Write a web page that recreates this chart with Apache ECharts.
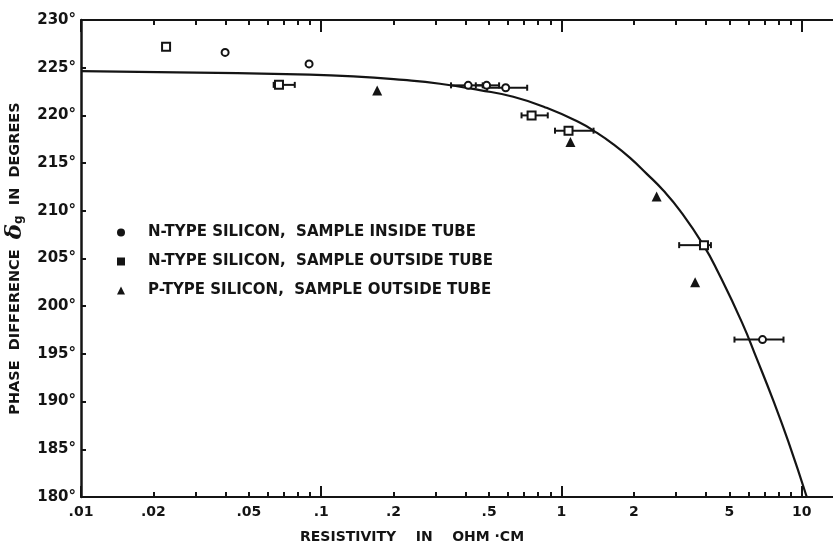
<!DOCTYPE html>
<html>
<head>
<meta charset="utf-8">
<script src="https://cdn.jsdelivr.net/npm/echarts@6/dist/echarts.min.js"></script>
<style>
  html, body { margin: 0; padding: 0; background: #fff; }
  #chart { width: 833px; height: 545px; }
</style>
</head>
<body>
<div id="chart"></div>
<script>
// N-type silicon, sample inside tube: resistivity (ohm·cm), phase (deg), horizontal error range
const nInsideRho   = [0.0398, 0.089, 0.409, 0.488, 0.586, 6.87];
const nInsidePhase = [226.6, 225.4, 223.15, 223.15, 222.9, 196.5];
const nInsideLow   = [null, null, 0.347, 0.44, 0.49, 5.25];
const nInsideHigh  = [null, null, 0.47, 0.55, 0.72, 8.4];

// N-type silicon, sample outside tube
const nOutsideRho   = [0.0226, 0.0667, 0.751, 1.07, 3.92];
const nOutsidePhase = [227.2, 223.2, 220.0, 218.4, 206.4];
const nOutsideLow   = [null, 0.0634, 0.682, 0.94, 3.09];
const nOutsideHigh  = [null, 0.0776, 0.877, 1.36, 4.19];

// P-type silicon, sample outside tube
const pOutsideRho   = [0.171, 1.09, 2.49, 3.60];
const pOutsidePhase = [222.6, 217.2, 211.5, 202.5];

// Calculated curve
const curveRho   = [0.01, 0.025, 0.08, 0.136, 0.22, 0.312, 0.457, 0.63, 0.867, 1.19, 1.40, 1.64, 1.93, 2.26, 2.65, 3.12, 3.90, 4.5, 5.64, 6.5, 7.62, 8.8, 10.5];
const curvePhase = [224.65, 224.52, 224.3, 224.1, 223.72, 223.32, 222.65, 221.95, 220.8, 219.25, 218.2, 217.0, 215.55, 213.9, 212.15, 210.0, 206.4, 203.5, 198.3, 194.5, 190.1, 185.8, 180.0];

// Axis ticks and labels
const xLabelValues = [0.01, 0.02, 0.05, 0.1, 0.2, 0.5, 1, 2, 5, 10];
const xLabelTexts  = ['.01', '.02', '.05', '.1', '.2', '.5', '1', '2', '5', '10'];
const xMajorTicks  = [0.01, 0.1, 1, 10];
const xMinorTicks  = [0.02, 0.03, 0.04, 0.05, 0.06, 0.07, 0.08, 0.09,
                      0.2, 0.3, 0.4, 0.5, 0.6, 0.7, 0.8, 0.9,
                      2, 3, 4, 5, 6, 7, 8, 9];
const xMin = 0.01, xMax = 13.5;
const yMin = 180, yMax = 230, yStep = 5;

const seriesNames = [
  'N-TYPE SILICON,  SAMPLE INSIDE TUBE',
  'N-TYPE SILICON,  SAMPLE OUTSIDE TUBE',
  'P-TYPE SILICON,  SAMPLE OUTSIDE TUBE'
];

const INK = '#141414';
const FONT = '"DejaVu Sans", "Liberation Sans", sans-serif';
const lg = Math.log10;

function pairs(xs, ys) { return xs.map((x, i) => [lg(x), ys[i]]); }

function errorBars(lo, hi, ys) {
  const data = [];
  lo.forEach((l, i) => { if (l != null) data.push([lg(l), lg(hi[i]), ys[i]]); });
  return {
    type: 'custom', silent: true, z: 2,
    encode: { x: [0, 1], y: 2 },
    data,
    renderItem(params, api) {
      const a = api.coord([api.value(0), api.value(2)]);
      const b = api.coord([api.value(1), api.value(2)]);
      const h = 3;
      const st = { stroke: INK, lineWidth: 2 };
      return {
        type: 'group',
        children: [
          { type: 'line', shape: { x1: a[0], y1: a[1], x2: b[0], y2: b[1] }, style: st },
          { type: 'line', shape: { x1: a[0], y1: a[1] - h, x2: a[0], y2: a[1] + h }, style: st },
          { type: 'line', shape: { x1: b[0], y1: b[1] - h, x2: b[0], y2: b[1] + h }, style: st }
        ]
      };
    }
  };
}

function xAxisDef(position, ticks, len, withLine, withLabels) {
  return {
    type: 'value', position, min: lg(xMin), max: lg(xMax),
    axisLine: { show: withLine, onZero: false, lineStyle: { color: INK, width: 2 } },
    axisTick: { show: true, inside: true, length: len, customValues: ticks.map(lg),
                lineStyle: { color: INK, width: 2 } },
    axisLabel: withLabels ? {
      show: true, customValues: xLabelValues.map(lg), margin: 8,
      color: INK, fontSize: 14, fontWeight: 'bold', fontFamily: FONT,
      formatter: v => {
        const i = xLabelValues.findIndex(t => Math.abs(lg(t) - v) < 1e-6);
        return i >= 0 ? xLabelTexts[i] : '';
      }
    } : { show: false },
    splitLine: { show: false }
  };
}

const chart = echarts.init(document.getElementById('chart'), null, { renderer: 'canvas' });

chart.setOption({
  backgroundColor: '#fff',
  animation: false,
  grid: { left: 81, right: 0, top: 20, bottom: 48, containLabel: false, outerBoundsMode: 'none' },
  xAxis: [
    xAxisDef('bottom', xMajorTicks, 11, true, true),
    xAxisDef('bottom', xMinorTicks, 5, false, false),
    xAxisDef('top', xMajorTicks, 12, true, false),
    xAxisDef('top', xMinorTicks, 5, false, false)
  ],
  yAxis: {
    type: 'value', min: yMin, max: yMax, interval: yStep,
    axisLine: { show: true, onZero: false, lineStyle: { color: INK, width: 2.5 } },
    axisTick: { show: true, inside: true, length: 5, lineStyle: { color: INK, width: 2 } },
    axisLabel: { margin: 5, color: INK, fontSize: 15, fontWeight: 'bold', fontFamily: FONT,
                 formatter: v => v + '°' },
    splitLine: { show: false },
    name: 'PHASE  DIFFERENCE  {d|δ}{g|g}  IN  DEGREES',
    nameLocation: 'middle', nameRotate: 90, nameGap: 54,
    nameTextStyle: {
      color: INK, fontSize: 14.5, fontWeight: 'bold', fontFamily: FONT,
      rich: {
        d: { fontSize: 23, fontFamily: '"DejaVu Serif", serif', fontStyle: 'italic', color: INK },
        g: { fontSize: 12, fontWeight: 'bold', fontFamily: FONT, color: INK, padding: [8, 0, 0, 0] }
      }
    }
  },
  legend: {
    left: 112, top: 220, orient: 'vertical', itemGap: 14,
    itemWidth: 8, itemHeight: 8, selectedMode: false,
    formatter: name => '{t|' + name + '}',
    textStyle: {
      color: INK, fontSize: 15, fontWeight: 'bold', fontFamily: FONT,
      rich: { t: { padding: [0, 0, 0, 18], fontSize: 15, fontWeight: 'bold', fontFamily: FONT, color: INK, lineHeight: 16 } }
    },
    data: [
      { name: seriesNames[0], icon: 'circle', itemStyle: { color: INK, borderWidth: 0 } },
      { name: seriesNames[1], icon: 'rect', itemStyle: { color: INK, borderWidth: 0 } },
      { name: seriesNames[2], icon: 'triangle', itemStyle: { color: INK, borderWidth: 0 } }
    ]
  },
  graphic: [
    { type: 'text', left: 300, top: 530,
      style: { text: 'RESISTIVITY    IN    OHM ·CM', fill: INK, font: 'bold 14px ' + FONT } }
  ],
  series: [
    {
      type: 'line', name: 'curve', data: pairs(curveRho, curvePhase),
      smooth: 0.5, showSymbol: false, symbol: 'none', silent: true, z: 1,
      lineStyle: { color: INK, width: 2.2 }, clip: true
    },
    errorBars(nInsideLow, nInsideHigh, nInsidePhase),
    errorBars(nOutsideLow, nOutsideHigh, nOutsidePhase),
    {
      type: 'scatter', name: seriesNames[0], data: pairs(nInsideRho, nInsidePhase),
      symbol: 'circle', symbolSize: 7, z: 3,
      itemStyle: { color: '#fff', borderColor: INK, borderWidth: 2, opacity: 1 }
    },
    {
      type: 'scatter', name: seriesNames[1], data: pairs(nOutsideRho, nOutsidePhase),
      symbol: 'rect', symbolSize: 8, z: 3,
      itemStyle: { color: '#fff', borderColor: INK, borderWidth: 2, opacity: 1 }
    },
    {
      type: 'scatter', name: seriesNames[2], data: pairs(pOutsideRho, pOutsidePhase),
      symbol: 'triangle', symbolSize: 10, z: 3,
      itemStyle: { color: INK, opacity: 1 }
    }
  ]
});
</script>
</body>
</html>
